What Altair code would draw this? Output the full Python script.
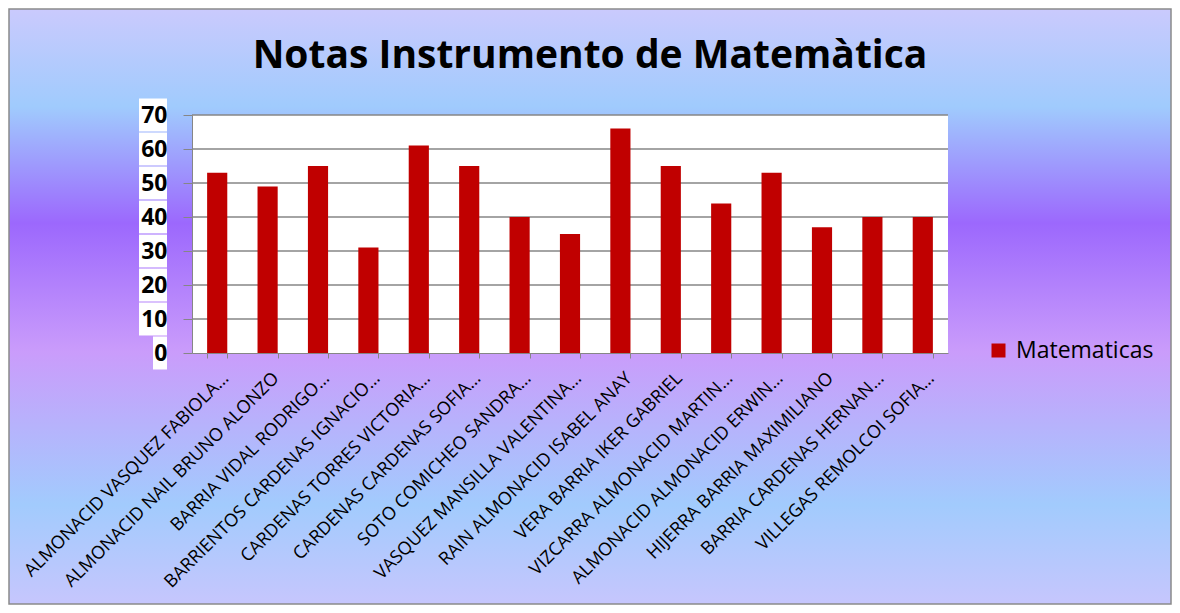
import altair as alt
import pandas as pd

title_text = "Notas Instrumento de Matemàtica"
series_name = "Matematicas"
students = [
    "ALMONACID VASQUEZ FABIOLA…",
    "ALMONACID NAIL BRUNO ALONZO",
    "BARRIA VIDAL RODRIGO…",
    "BARRIENTOS CARDENAS IGNACIO…",
    "CARDENAS TORRES  VICTORIA…",
    "CARDENAS CARDENAS SOFIA…",
    "SOTO COMICHEO SANDRA…",
    "VASQUEZ MANSILLA VALENTINA…",
    "RAIN ALMONACID ISABEL ANAY",
    "VERA BARRIA IKER GABRIEL",
    "VIZCARRA ALMONACID MARTIN…",
    "ALMONACID ALMONACID ERWIN…",
    "HIJERRA BARRIA MAXIMILIANO",
    "BARRIA CARDENAS HERNAN…",
    "VILLEGAS REMOLCOI SOFIA…",
]
scores = [53, 49, 55, 31, 61, 55, 40, 35, 66, 55, 44, 53, 37, 40, 40]
y_ticks = [0, 10, 20, 30, 40, 50, 60, 70]

W, H = 756, 238
PAD = {"left": 184, "top": 107, "right": 224, "bottom": 252}
GRAY = "#868686"
FONT = "Open Sans"

df = pd.DataFrame({"alumno": students, "nota": scores, "serie": series_name})
ticks_df = pd.DataFrame({"t": y_ticks})
ticks_df["lo"] = ticks_df["t"] - 4.85
ticks_df["hi"] = ticks_df["t"] + 4.85
one = pd.DataFrame({"k": [0]})

y_scale = alt.Scale(domain=[0, 70], nice=False)
y_axis = alt.Axis(
    values=y_ticks, grid=False, domainColor=GRAY, tickColor=GRAY, tickSize=9,
    labelFont=FONT, labelFontSize=23, labelFontWeight="bold", labelColor="black",
    labelPadding=16, title=None, zindex=1,
)

bg = alt.Chart(one).mark_rect(
    fill=alt.LinearGradient(
        gradient="linear", x1=0, x2=0, y1=0, y2=1,
        stops=[
            alt.GradientStop(color="#cacafd", offset=0),
            alt.GradientStop(color="#a0cbfd", offset=0.164),
            alt.GradientStop(color="#9c68fd", offset=0.36),
            alt.GradientStop(color="#ca9cfb", offset=0.576),
            alt.GradientStop(color="#a2cbfd", offset=0.833),
            alt.GradientStop(color="#c6c6fd", offset=1),
        ],
    ),
    stroke="#8a8a8a", strokeWidth=1.5,
).encode(
    x=alt.value(-183), x2=alt.value(W + PAD["right"] - 1),
    y=alt.value(-106), y2=alt.value(H + PAD["bottom"] - 1),
)

plot_bg = alt.Chart(one).mark_rect(fill="white").encode(
    x=alt.value(0), x2=alt.value(W), y=alt.value(0), y2=alt.value(H)
)

grid = alt.Chart(ticks_df).transform_filter("datum.t > 0").mark_rule(
    color=GRAY, strokeWidth=1.5
).encode(
    y=alt.Y("t:Q", scale=y_scale, axis=y_axis),
    x=alt.value(0), x2=alt.value(W),
)

boxes2 = alt.Chart(ticks_df).transform_filter("datum.t >= 10").mark_rect(
    fill="white"
).encode(
    y=alt.Y("lo:Q", scale=y_scale, axis=y_axis), y2="hi:Q",
    x=alt.value(-53), x2=alt.value(-25),
)
boxes1 = alt.Chart(ticks_df).transform_filter("datum.t < 10").mark_rect(
    fill="white"
).encode(
    y=alt.Y("lo:Q", scale=y_scale, axis=y_axis), y2="hi:Q",
    x=alt.value(-39), x2=alt.value(-25),
)

bars = alt.Chart(df).mark_bar(stroke=None).encode(
    x=alt.X(
        "alumno:N", sort=None,
        scale=alt.Scale(paddingInner=0.6, paddingOuter=0.3),
        axis=alt.Axis(
            labelAngle=-45, labelAlign="right", labelBaseline="top",
            labelFont=FONT, labelFontSize=18, labelColor="black",
            labelLimit=0, labelPadding=11, labelOffset=2, labelOverlap=False,
            tickBand="extent", tickSize=5, domainColor=GRAY, tickColor=GRAY,
            title=None, zindex=1,
        ),
    ),
    y=alt.Y("nota:Q", scale=y_scale, axis=y_axis),
    color=alt.Color(
        "serie:N", scale=alt.Scale(range=["#c00000"]),
        legend=alt.Legend(
            orient="none", legendX=795, legendY=224, title=None,
            symbolType="square", symbolSize=196, symbolStrokeWidth=0,
            labelFont=FONT, labelFontSize=23, labelColor="black",
            labelOffset=6, padding=0,
        ),
    ),
)

title = alt.Chart(one).mark_text(
    font=FONT, fontSize=39, fontWeight="bold", color="black",
    align="center", baseline="alphabetic",
).encode(x=alt.value(398), y=alt.value(-47), text=alt.value(title_text))

chart = alt.layer(bg, plot_bg, grid, boxes2, boxes1, bars, title).properties(
    width=W, height=H, padding=PAD, autosize=alt.AutoSizeParams(type="none"),
).configure_view(stroke=None).configure(background="white")

chart.save("out.html", embed_options={"renderer": "svg", "actions": False})
